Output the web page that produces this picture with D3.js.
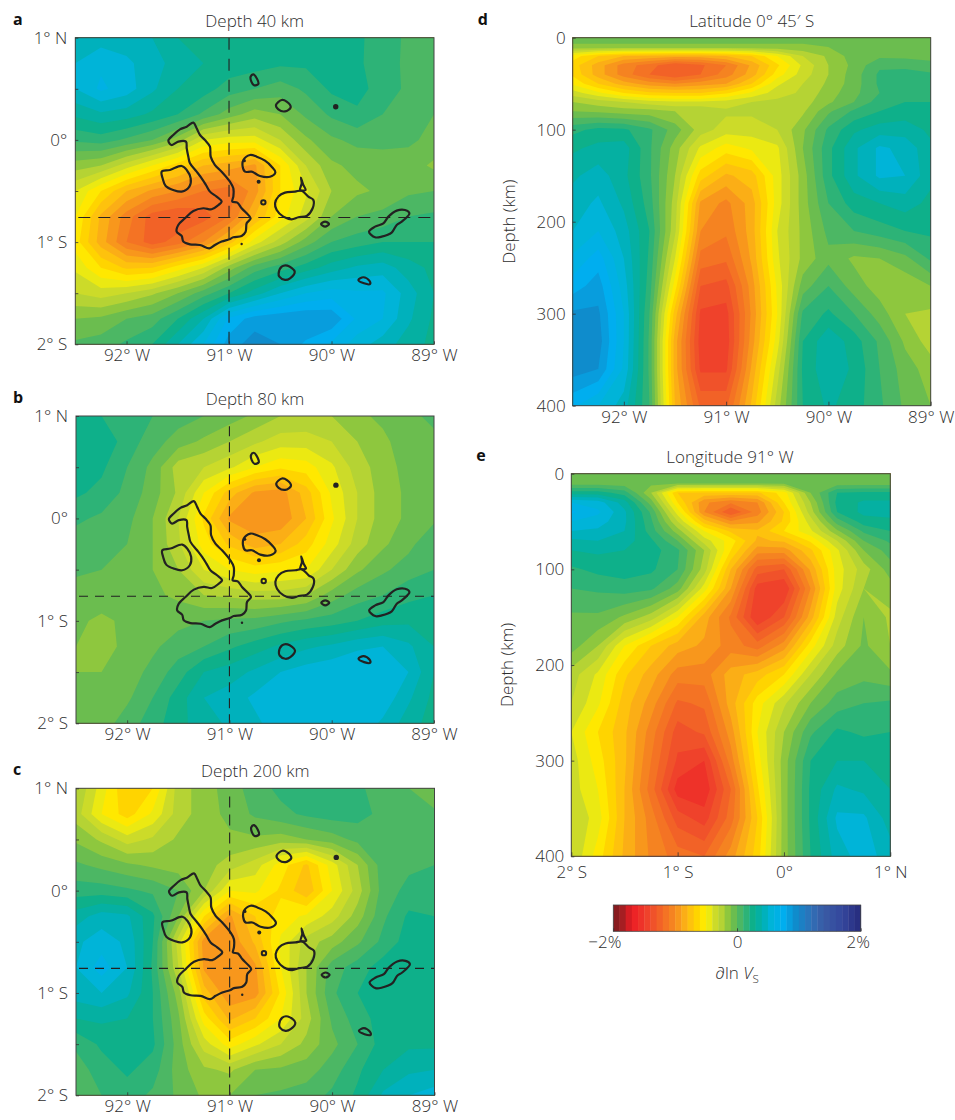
<!DOCTYPE html>
<html>
<head>
<meta charset="utf-8">
<script src="https://cdn.jsdelivr.net/npm/d3@7"></script>
<style>
  html, body { margin: 0; padding: 0; background: #fff; }
  text { font-family: "Open Sans", sans-serif; font-weight: 300; fill: #2e2e2e; }
  .letter { font-weight: 700; fill: #111; font-size: 16px; }
  .axis text { font-size: 17px; font-family: "Open Sans", sans-serif; font-weight: 300; fill: #2e2e2e; }
  .axis line { stroke: #333; stroke-width: 0.8; }
  .axis path { stroke: none; }
</style>
</head>
<body>
<div id="chart"></div>
<script>
// grid axes (degrees and km)
var lons = [-92.5, -92.25, -92, -91.75, -91.5, -91.25, -91, -90.75, -90.5, -90.25, -90, -89.75, -89.5, -89.25, -89];
var lats = [1, 0.75, 0.5, 0.25, 0, -0.25, -0.5, -0.75, -1, -1.25, -1.5, -1.75, -2];
var depths = [0, 10, 20, 30, 40, 50, 60, 70, 80, 100, 120, 150, 180, 210, 240, 270, 300, 330, 360, 400];
var sectionLats = [-2, -1.75, -1.5, -1.25, -1, -0.75, -0.5, -0.25, 0, 0.25, 0.5, 0.75, 1];

// velocity anomaly in %, rows follow lats
var depth40 = [
  [0.4, 0.45, 0.45, 0.4, 0.3, 0.3, 0.3, 0.3, 0.3, 0.3, 0.28, 0.22, 0.15, 0.08, 0.02],
  [0.5, 0.58, 0.52, 0.45, 0.35, 0.3, 0.27, 0.25, 0.22, 0.22, 0.22, 0.22, 0.14, 0.08, 0.02],
  [0.5, 0.62, 0.55, 0.42, 0.3, 0.25, 0.15, 0.1, 0.05, 0.12, 0.22, 0.24, 0.15, 0.08, 0.02],
  [0.32, 0.38, 0.35, 0.28, 0.2, 0.08, -0.05, -0.15, -0.1, 0.02, 0.12, 0.18, 0.1, 0.05, 0],
  [0.12, 0.15, 0.08, 0, -0.15, -0.4, -0.45, -0.45, -0.3, -0.12, -0.02, 0.03, 0.03, 0.02, -0.03],
  [-0.15, -0.2, -0.35, -0.5, -0.65, -0.8, -0.85, -0.92, -0.6, -0.3, -0.12, -0.07, -0.05, -0.05, -0.12],
  [-0.4, -0.6, -0.8, -0.92, -1, -1.1, -1.15, -0.95, -0.6, -0.42, -0.2, -0.12, -0.08, -0.02, 0],
  [-0.5, -0.82, -1.05, -1.25, -1.3, -1.25, -1.1, -0.8, -0.55, -0.35, -0.1, 0, 0.03, 0.1, 0.12],
  [-0.55, -0.85, -1.1, -1.25, -1.15, -1, -0.75, -0.45, -0.25, -0.05, 0.1, 0.15, 0.2, 0.2, 0.2],
  [-0.42, -0.6, -0.72, -0.7, -0.55, -0.4, -0.15, 0.05, 0.15, 0.25, 0.35, 0.42, 0.45, 0.35, 0.27],
  [-0.3, -0.35, -0.3, -0.22, -0.1, 0.05, 0.2, 0.35, 0.5, 0.6, 0.65, 0.62, 0.62, 0.45, 0.3],
  [-0.1, -0.08, 0, 0.05, 0.2, 0.4, 0.72, 0.85, 0.88, 0.9, 0.88, 0.68, 0.6, 0.42, 0.28],
  [0.02, 0.05, 0.12, 0.2, 0.4, 0.6, 0.85, 0.95, 0.9, 0.78, 0.68, 0.55, 0.45, 0.35, 0.27]
];
var depth80 = [
  [0.22, 0.2, 0.15, 0.1, 0.05, 0, -0.05, -0.12, -0.2, -0.22, -0.2, -0.12, -0.08, -0.02, 0.02],
  [0.3, 0.28, 0.15, 0.05, -0.05, -0.12, -0.2, -0.28, -0.35, -0.35, -0.3, -0.2, -0.12, -0.05, -0.02],
  [0.3, 0.22, 0.1, -0.03, -0.25, -0.3, -0.38, -0.5, -0.58, -0.55, -0.42, -0.25, -0.15, -0.06, -0.03],
  [0.22, 0.17, 0.07, -0.05, -0.22, -0.5, -0.75, -0.92, -0.95, -0.75, -0.48, -0.3, -0.15, -0.08, -0.03],
  [0.12, 0.08, 0.03, -0.1, -0.3, -0.62, -0.92, -0.98, -0.98, -0.8, -0.52, -0.3, -0.15, -0.08, -0.02],
  [0.05, 0.04, 0, -0.1, -0.28, -0.55, -0.72, -0.85, -0.8, -0.65, -0.45, -0.25, -0.12, -0.03, 0.08],
  [0.02, 0, -0.02, -0.1, -0.2, -0.4, -0.5, -0.55, -0.52, -0.5, -0.3, -0.12, -0.02, 0.05, 0.1],
  [-0.05, -0.05, -0.05, -0.08, -0.12, -0.2, -0.22, -0.25, -0.25, -0.2, -0.05, 0.05, 0.1, 0.17, 0.2],
  [-0.08, -0.12, -0.08, -0.05, -0.03, 0, 0.02, 0.03, 0.08, 0.12, 0.15, 0.2, 0.26, 0.28, 0.27],
  [-0.1, -0.13, -0.08, -0.02, 0.05, 0.1, 0.18, 0.25, 0.32, 0.38, 0.42, 0.48, 0.5, 0.42, 0.3],
  [-0.1, -0.1, -0.05, 0.03, 0.15, 0.3, 0.35, 0.42, 0.5, 0.55, 0.58, 0.6, 0.58, 0.5, 0.3],
  [-0.08, -0.07, -0.02, 0.1, 0.25, 0.4, 0.45, 0.52, 0.58, 0.6, 0.6, 0.6, 0.57, 0.42, 0.27],
  [-0.08, -0.05, 0.05, 0.15, 0.27, 0.35, 0.42, 0.48, 0.55, 0.58, 0.6, 0.58, 0.48, 0.35, 0.25]
];
var depth200 = [
  [-0.2, -0.45, -0.7, -0.6, -0.25, -0.15, -0.05, 0.05, 0.13, 0.18, 0.18, 0.12, 0.05, 0, -0.08],
  [-0.25, -0.5, -0.65, -0.48, -0.25, -0.15, -0.07, 0.02, 0.07, 0.12, 0.15, 0.14, 0.07, 0.03, 0.02],
  [-0.12, -0.22, -0.35, -0.28, -0.18, -0.15, -0.12, -0.12, -0.15, -0.1, -0.05, 0.03, 0.08, 0.07, 0.05],
  [0.02, -0.03, -0.08, -0.12, -0.15, -0.15, -0.25, -0.35, -0.55, -0.72, -0.45, -0.2, 0.06, 0.08, 0.1],
  [0.15, 0.15, 0.12, 0.08, 0, -0.2, -0.5, -0.48, -0.62, -0.78, -0.5, -0.25, 0.05, 0.13, 0.18],
  [0.35, 0.45, 0.42, 0.22, -0.1, -0.6, -0.92, -0.7, -0.55, -0.48, -0.35, -0.15, 0.08, 0.22, 0.2],
  [0.48, 0.55, 0.48, 0.2, -0.35, -0.95, -0.98, -0.78, -0.48, -0.25, -0.15, -0.02, 0.13, 0.25, 0.25],
  [0.5, 0.65, 0.5, 0.18, -0.3, -0.92, -0.98, -0.92, -0.5, -0.2, 0.05, 0.15, 0.25, 0.3, 0.27],
  [0.45, 0.5, 0.42, 0.2, -0.15, -0.75, -0.98, -0.95, -0.58, -0.2, 0.08, 0.2, 0.25, 0.27, 0.27],
  [0.3, 0.32, 0.3, 0.2, -0.08, -0.55, -0.82, -0.7, -0.5, -0.25, 0.02, 0.15, 0.25, 0.27, 0.27],
  [0.12, 0.22, 0.25, 0.22, -0.05, -0.35, -0.55, -0.42, -0.3, -0.17, -0.03, 0.1, 0.25, 0.28, 0.28],
  [0.05, 0.15, 0.22, 0.15, -0.05, -0.18, -0.22, -0.1, -0.08, -0.05, 0.05, 0.18, 0.3, 0.38, 0.4],
  [0.02, 0.1, 0.15, 0.08, -0.02, -0.12, -0.1, 0, 0.02, 0.05, 0.12, 0.22, 0.42, 0.5, 0.55]
];
// rows follow depths
var latSection = [
  [-0.06, -0.06, -0.06, -0.06, -0.06, -0.06, -0.06, -0.06, -0.06, -0.06, -0.06, -0.06, -0.06, -0.06, -0.06],
  [-0.12, -0.12, -0.12, -0.12, -0.12, -0.12, -0.12, -0.12, -0.12, -0.12, -0.1, -0.07, -0.06, -0.06, -0.06],
  [-0.55, -0.7, -0.8, -0.82, -0.85, -0.85, -0.8, -0.7, -0.5, -0.3, -0.18, -0.05, -0.02, -0.03, -0.03],
  [-0.65, -0.85, -1.05, -1.15, -1.3, -1.22, -1.1, -0.88, -0.62, -0.38, -0.2, -0.07, 0.08, 0.08, 0.03],
  [-0.62, -0.85, -1.05, -1.2, -1.3, -1.2, -1.05, -0.85, -0.55, -0.35, -0.2, -0.05, 0.12, 0.13, 0.12],
  [-0.52, -0.7, -0.85, -0.95, -1, -0.95, -0.9, -0.7, -0.42, -0.3, -0.18, -0.05, 0.12, 0.13, 0.12],
  [-0.35, -0.48, -0.6, -0.68, -0.7, -0.7, -0.62, -0.48, -0.35, -0.28, -0.15, -0.03, 0.1, 0.13, 0.13],
  [-0.2, -0.25, -0.3, -0.35, -0.38, -0.38, -0.35, -0.3, -0.27, -0.25, -0.12, 0, 0.15, 0.2, 0.2],
  [-0.1, -0.12, -0.15, -0.16, -0.2, -0.2, -0.28, -0.28, -0.27, -0.22, -0.02, 0.12, 0.2, 0.25, 0.25],
  [0.17, 0.23, 0.22, 0.12, -0.05, -0.25, -0.35, -0.35, -0.3, -0.12, 0.12, 0.28, 0.35, 0.35, 0.28],
  [0.28, 0.33, 0.35, 0.12, -0.15, -0.42, -0.55, -0.48, -0.42, -0.1, 0.17, 0.38, 0.52, 0.47, 0.32],
  [0.38, 0.45, 0.33, 0.12, -0.2, -0.65, -0.82, -0.75, -0.45, -0.15, 0.17, 0.38, 0.52, 0.5, 0.33],
  [0.45, 0.52, 0.38, 0.15, -0.25, -0.92, -1.03, -0.85, -0.45, -0.15, 0.1, 0.25, 0.3, 0.35, 0.27],
  [0.5, 0.6, 0.45, 0.2, -0.28, -1, -1.08, -0.85, -0.4, -0.17, 0.03, 0.1, 0.15, 0.2, 0.22],
  [0.62, 0.75, 0.5, 0.18, -0.4, -1.14, -1.18, -0.88, -0.42, -0.17, -0.03, -0.12, -0.1, -0.03, 0.12],
  [0.75, 0.85, 0.55, 0.15, -0.55, -1.3, -1.34, -0.95, -0.48, -0.05, 0.1, -0.05, -0.15, -0.17, -0.1],
  [0.92, 0.92, 0.6, 0.1, -0.75, -1.42, -1.44, -0.98, -0.5, 0.12, 0.22, 0.1, -0.05, -0.2, -0.22],
  [0.95, 0.95, 0.6, 0.08, -0.85, -1.45, -1.46, -0.95, -0.45, 0.2, 0.38, 0.25, 0.08, -0.12, -0.25],
  [0.95, 0.9, 0.58, 0.08, -0.85, -1.42, -1.42, -0.88, -0.35, 0.22, 0.38, 0.28, 0.1, -0.05, -0.15],
  [0.72, 0.6, 0.45, 0.1, -0.8, -1.22, -1.22, -0.78, -0.25, 0.2, 0.32, 0.25, 0.12, -0.02, -0.1]
];
var lonSection = [
  [-0.06, -0.06, -0.06, -0.06, -0.06, -0.06, -0.06, -0.06, -0.06, -0.06, -0.06, -0.06, -0.06],
  [-0.05, -0.05, -0.06, -0.07, -0.08, -0.08, -0.08, -0.08, -0.08, -0.07, -0.05, -0.05, -0.05],
  [0.25, 0.25, 0.15, -0.2, -0.7, -0.72, -0.72, -0.72, -0.55, -0.1, 0.2, 0.22, 0.22],
  [0.6, 0.55, 0.35, -0.05, -0.6, -0.98, -1.08, -1, -0.6, -0.2, 0.23, 0.32, 0.32],
  [0.72, 0.62, 0.42, 0.08, -0.45, -1, -1.3, -1.05, -0.7, -0.25, 0.2, 0.33, 0.33],
  [0.6, 0.55, 0.42, 0.12, -0.3, -0.75, -0.98, -0.92, -0.68, -0.35, 0.05, 0.25, 0.28],
  [0.5, 0.48, 0.4, 0.15, -0.15, -0.5, -0.72, -0.78, -0.6, -0.42, -0.12, 0.12, 0.2],
  [0.38, 0.4, 0.35, 0.22, 0, -0.35, -0.55, -0.82, -0.78, -0.58, -0.3, 0, 0.12],
  [0.3, 0.32, 0.3, 0.25, 0.12, -0.2, -0.6, -0.95, -0.95, -0.72, -0.42, -0.1, 0.05],
  [0.18, 0.23, 0.25, 0.22, 0.1, -0.25, -0.8, -1.25, -1.3, -0.88, -0.45, -0.25, -0.05],
  [0.1, 0.12, 0.15, 0.12, -0.05, -0.45, -0.9, -1.45, -1.5, -1, -0.45, -0.2, -0.15],
  [-0.02, -0.02, -0.12, -0.25, -0.5, -0.85, -1.12, -1.5, -1.3, -0.85, -0.35, -0.1, -0.22],
  [-0.05, -0.2, -0.5, -0.7, -0.85, -0.92, -1.05, -1.15, -0.95, -0.55, -0.25, -0.08, -0.2],
  [-0.25, -0.42, -0.68, -0.85, -1.05, -1.05, -0.85, -0.75, -0.6, -0.3, -0.08, -0.03, -0.08],
  [-0.3, -0.48, -0.75, -0.95, -1.22, -1.18, -0.85, -0.55, -0.32, -0.1, 0.05, 0.1, 0.12],
  [-0.4, -0.6, -0.78, -1.05, -1.35, -1.28, -0.95, -0.5, -0.2, 0.08, 0.22, 0.18, 0.2],
  [-0.35, -0.55, -0.78, -1.1, -1.42, -1.5, -1.05, -0.55, -0.15, 0.2, 0.3, 0.3, 0.25],
  [-0.35, -0.5, -0.8, -1.15, -1.55, -1.58, -1.2, -0.62, -0.15, 0.22, 0.42, 0.38, 0.3],
  [-0.3, -0.45, -0.8, -1.05, -1.35, -1.45, -1.15, -0.7, -0.15, 0.22, 0.52, 0.52, 0.35],
  [-0.3, -0.55, -0.82, -1.02, -1.15, -1.2, -0.95, -0.65, -0.15, 0.2, 0.45, 0.55, 0.45]
];

// coastlines, [lon, lat]
var isabela = [[-91.348,0.169],[-91.316,0.113],[-91.283,0.048],[-91.235,-0.001],[-91.186,-0.066],[-91.179,-0.164],[-91.137,-0.246],[-91.072,-0.311],[-90.991,-0.409],[-90.958,-0.474],[-90.958,-0.555],[-90.968,-0.604],[-90.919,-0.614],[-90.877,-0.669],[-90.828,-0.718],[-90.789,-0.767],[-90.828,-0.816],[-90.838,-0.898],[-90.877,-0.94],[-90.958,-0.953],[-90.997,-0.973],[-91.072,-0.995],[-91.137,-1.028],[-91.192,-1.061],[-91.283,-1.028],[-91.381,-1.022],[-91.446,-0.995],[-91.462,-0.94],[-91.511,-0.898],[-91.495,-0.832],[-91.43,-0.767],[-91.348,-0.695],[-91.251,-0.669],[-91.17,-0.679],[-91.104,-0.637],[-91.072,-0.604],[-91.121,-0.555],[-91.186,-0.506],[-91.225,-0.441],[-91.267,-0.376],[-91.316,-0.311],[-91.381,-0.229],[-91.397,-0.164],[-91.413,-0.082],[-91.42,-0.017],[-91.495,-0.017],[-91.56,-0.05],[-91.592,-0.008],[-91.544,0.048],[-91.479,0.103],[-91.413,0.129]];
var fernandina = [[-91.657,-0.311],[-91.576,-0.294],[-91.462,-0.255],[-91.413,-0.294],[-91.374,-0.376],[-91.387,-0.457],[-91.462,-0.506],[-91.544,-0.49],[-91.618,-0.451],[-91.648,-0.376]];
var santiago = [[-90.86,-0.197],[-90.795,-0.148],[-90.73,-0.164],[-90.649,-0.203],[-90.584,-0.262],[-90.548,-0.317],[-90.6,-0.36],[-90.698,-0.353],[-90.779,-0.311],[-90.844,-0.311],[-90.867,-0.262]];
var santaCruz = [[-90.551,-0.62],[-90.519,-0.555],[-90.454,-0.516],[-90.356,-0.506],[-90.291,-0.497],[-90.226,-0.555],[-90.177,-0.588],[-90.184,-0.669],[-90.242,-0.744],[-90.324,-0.757],[-90.389,-0.777],[-90.47,-0.751],[-90.535,-0.686]];
var baltra = [[-90.307,-0.49],[-90.291,-0.425],[-90.298,-0.369],[-90.275,-0.441],[-90.252,-0.49]];
var sanCristobal = [[-89.634,-0.898],[-89.575,-0.849],[-89.494,-0.816],[-89.445,-0.751],[-89.364,-0.692],[-89.283,-0.686],[-89.24,-0.718],[-89.315,-0.8],[-89.364,-0.832],[-89.413,-0.907],[-89.51,-0.947],[-89.575,-0.953]];
var floreana = [[-90.516,-1.305],[-90.486,-1.24],[-90.431,-1.23],[-90.359,-1.289],[-90.405,-1.354],[-90.454,-1.37],[-90.509,-1.338]];
var espanola = [[-89.738,-1.37],[-89.689,-1.344],[-89.631,-1.377],[-89.624,-1.41],[-89.683,-1.403]];
var pinta = [[-90.789,0.619],[-90.763,0.641],[-90.724,0.592],[-90.714,0.547],[-90.756,0.534],[-90.782,0.57]];
var marchena = [[-90.542,0.341],[-90.486,0.39],[-90.438,0.374],[-90.398,0.319],[-90.454,0.279],[-90.519,0.299]];
var santaFe = [[-90.102,-0.823],[-90.063,-0.8],[-90.024,-0.823],[-90.063,-0.849]];
var islands = [isabela, fernandina, santiago, santaCruz, baltra, sanCristobal, floreana, espanola, pinta, marchena, santaFe];
var islets = [[-89.959, 0.325], [-90.711, -0.409], [-90.877, -1.018], [-90.851, -0.203], [-90.665, -0.611]];

var levels = d3.range(-2, 2, 0.1);
var colourValues = [-2, -1.85, -1.7, -1.5, -1.3, -1, -0.8, -0.65, -0.5, -0.4, -0.25, -0.1, 0, 0.1, 0.25, 0.4, 0.55, 0.75, 0.95, 1.2, 1.4, 1.7, 2];
var colours = ["#7a1a1e", "#a51e22", "#ed1c24", "#ee3a2b", "#f15a29", "#f68b1f", "#fdb913", "#ffd400", "#fff200", "#d7df23", "#b5d334", "#7ac143", "#5cb95a", "#3cb56e", "#0eb08a", "#00b0ae", "#00b4d8", "#00aeef", "#0f8ccc", "#2f6fb7", "#3a5ba5", "#34479c", "#262a7c"];
var colour = d3.scaleLinear().domain(colourValues).range(colours);

var svg = d3.select("#chart").append("svg")
  .attr("width", 955)
  .attr("height", 1120)
  .style("display", "block");

var clipCount = 0;

// filled contours of one grid, x and y are the pixel scales of the panel
function drawField(g, grid, xValues, yValues, x, y, box) {
  var rows = grid.length, cols = grid[0].length;
  var xIndex = d3.scaleLinear().domain(d3.range(cols).map(d => d + 0.5)).range(xValues);
  var yIndex = d3.scaleLinear().domain(d3.range(rows).map(d => d + 0.5)).range(yValues);
  var path = d3.geoPath(d3.geoTransform({
    point: function(px, py) { this.stream.point(x(xIndex(px)), y(yIndex(py))); }
  }));
  var contours = d3.contours().size([cols, rows]).smooth(true).thresholds(levels)(d3.merge(grid));

  var id = "clip" + (clipCount++);
  g.append("clipPath").attr("id", id).append("rect")
    .attr("x", box.left).attr("y", box.top)
    .attr("width", box.right - box.left).attr("height", box.bottom - box.top);

  g.append("g").attr("clip-path", `url(#${id})`)
    .selectAll("path")
    .data(contours)
    .enter()
    .append("path")
    .attr("d", path)
    .attr("fill", d => colour(d.value + 0.05));
  return id;
}

function drawFrame(g, box) {
  g.append("rect")
    .attr("x", box.left).attr("y", box.top)
    .attr("width", box.right - box.left).attr("height", box.bottom - box.top)
    .attr("fill", "none").attr("stroke", "#444").attr("stroke-width", 1);
}

function lonLabel(d) { return `${-d}\u00b0 W`; }
function latLabel(d) {
  if (d === 0) return "0\u00b0";
  if (!Number.isInteger(d)) return "";
  return d > 0 ? `${d}\u00b0 N` : `${-d}\u00b0 S`;
}

function drawMap(box, grid, title, letter, dash) {
  var g = svg.append("g");
  var x = d3.scaleLinear().domain([-92.5, -89]).range([box.left, box.right]);
  var y = d3.scaleLinear().domain([-2, 1]).range([box.bottom, box.top]);
  var id = drawField(g, grid, lons, lats, x, y, box);

  // section lines
  g.append("line")
    .attr("x1", x(-91)).attr("x2", x(-91))
    .attr("y1", y(dash.top)).attr("y2", box.bottom)
    .attr("stroke", "#222").attr("stroke-width", 1.1).attr("stroke-dasharray", dash.v);
  g.append("line")
    .attr("x1", box.left + 3).attr("x2", box.right)
    .attr("y1", y(-0.76)).attr("y2", y(-0.76))
    .attr("stroke", "#222").attr("stroke-width", 1.1).attr("stroke-dasharray", dash.h);

  var line = d3.line().x(d => x(d[0])).y(d => y(d[1])).curve(d3.curveCatmullRomClosed.alpha(0.5));
  g.append("g").attr("clip-path", `url(#${id})`)
    .selectAll("path")
    .data(islands)
    .enter()
    .append("path")
    .attr("d", line)
    .attr("fill", "none").attr("stroke", "#222").attr("stroke-width", 2.2).attr("stroke-linejoin", "round");

  g.selectAll("circle.islet")
    .data(islets)
    .enter()
    .append("circle")
    .attr("class", "islet")
    .attr("cx", d => x(d[0])).attr("cy", d => y(d[1]))
    .attr("r", (d, i) => [2.7, 2, 1.2, 1.6, 2.2][i])
    .attr("fill", (d, i) => i === 4 ? "none" : "#222")
    .attr("stroke", "#222").attr("stroke-width", (d, i) => i === 4 ? 2 : 0);

  drawFrame(g, box);

  g.append("g").attr("class", "axis")
    .attr("transform", `translate(0, ${box.bottom})`)
    .call(d3.axisBottom(x).tickValues([-92, -91, -90, -89]).tickSize(-3).tickPadding(5).tickFormat(lonLabel));
  g.append("g").attr("class", "axis")
    .attr("transform", `translate(${box.left}, 0)`)
    .call(d3.axisLeft(y).tickValues([1, 0.5, 0, -0.5, -1, -1.5, -2]).tickSize(-3).tickPadding(8).tickFormat(latLabel));

  g.append("text").attr("x", (box.left + box.right) / 2).attr("y", box.top - 11)
    .attr("text-anchor", "middle").style("font-size", "17px").text(title);
  g.append("text").attr("class", "letter").attr("x", 13).attr("y", box.top - 13).text(letter);
}

function drawSection(box, grid, xValues, xDomain, xTicks, xFormat, title, letter) {
  var g = svg.append("g");
  var x = d3.scaleLinear().domain(xDomain).range([box.left, box.right]);
  var y = d3.scaleLinear().domain([0, 400]).range([box.top, box.bottom]);
  drawField(g, grid, xValues, depths, x, y, box);
  drawFrame(g, box);

  g.append("g").attr("class", "axis")
    .attr("transform", `translate(0, ${box.bottom})`)
    .call(d3.axisBottom(x).tickValues(xTicks).tickSize(-4).tickPadding(box.labelGap).tickFormat(xFormat));
  g.append("g").attr("class", "axis")
    .attr("transform", `translate(${box.left}, 0)`)
    .call(d3.axisLeft(y).tickValues([0, 100, 200, 300, 400]).tickSize(-3).tickPadding(7));

  g.append("text")
    .attr("transform", `translate(${box.left - 58}, ${(box.top + box.bottom) / 2}) rotate(-90)`)
    .attr("text-anchor", "middle").style("font-size", "17px").text("Depth (km)");
  g.append("text").attr("x", box.titleX).attr("y", box.top - 11)
    .attr("text-anchor", "middle").style("font-size", "17px").text(title);
  g.append("text").attr("class", "letter").attr("x", box.left - 95).attr("y", box.top - 13).text(letter);
}

drawMap({left: 75.3, right: 434, top: 37.7, bottom: 344.3}, depth40, "Depth 40 km", "a", {top: 1, v: "12 9", h: "12 8"});
drawMap({left: 76, right: 434, top: 416, bottom: 723.3}, depth80, "Depth 80 km", "b", {top: 0.9, v: "10 6", h: "9 7"});
drawMap({left: 76, right: 434.5, top: 788.3, bottom: 1095.3}, depth200, "Depth 200 km", "c", {top: 0.92, v: "11 7", h: "9 7"});

drawSection({left: 572.7, right: 930.7, top: 37.7, bottom: 405.7, titleX: 751.7, labelGap: 5}, latSection, lons,
  [-92.5, -89], [-92, -91, -90, -89], lonLabel, "Latitude 0\u00b0 45\u2032 S", "d");
drawSection({left: 571.3, right: 890.3, top: 473.7, bottom: 856.3, titleX: 730, labelGap: 10}, lonSection, sectionLats,
  [-2, 1], [-2, -1, 0, 1], latLabel, "Longitude 91\u00b0 W", "e");

// colour key
var keyX = d3.scaleLinear().domain([-2, 2]).range([613.3, 860.7]);
var key = svg.append("g");
key.selectAll("rect")
  .data(levels)
  .enter()
  .append("rect")
  .attr("x", d => keyX(d))
  .attr("y", 905)
  .attr("width", keyX(0.1) - keyX(0) + 0.4)
  .attr("height", 26.3)
  .attr("fill", d => colour(d + 0.05));
key.append("rect").attr("x", 613.3).attr("y", 905).attr("width", 247.4).attr("height", 26.3)
  .attr("fill", "none").attr("stroke", "#444").attr("stroke-width", 0.8);
key.append("g").attr("class", "axis")
  .attr("transform", "translate(0, 931.3)")
  .call(d3.axisBottom(keyX).tickValues([-2, 0, 2]).tickSize(-3).tickPadding(5)
    .tickFormat(d => d === 0 ? "0" : (d < 0 ? "\u22122%" : "2%")))
  .selectAll("text")
  .attr("dx", (d, i) => i === 0 ? -9 : (i === 2 ? -3 : 0));

var keyLabel = key.append("text").attr("x", 737).attr("y", 979).attr("text-anchor", "middle").style("font-size", "17px");
keyLabel.append("tspan").text("\u2202ln ");
keyLabel.append("tspan").style("font-style", "italic").text("V");
keyLabel.append("tspan").attr("dy", 4).style("font-size", "11.5px").text("S");
</script>
</body>
</html>
